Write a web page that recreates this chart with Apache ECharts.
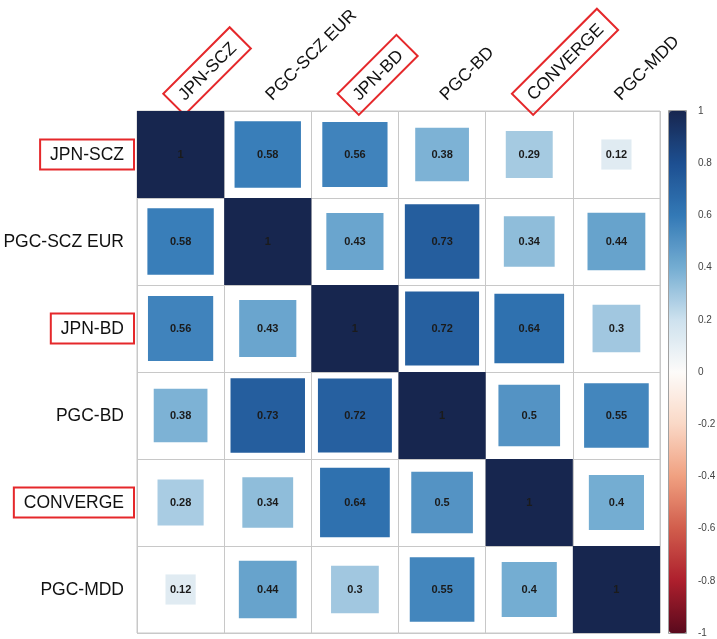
<!DOCTYPE html>
<html>
<head>
<meta charset="utf-8">
<script src="https://cdn.jsdelivr.net/npm/echarts@6/dist/echarts.min.js"></script>
<style>
  html, body { margin: 0; padding: 0; background: #fff; }
  #chart { width: 717px; height: 639px; }
</style>
</head>
<body>
<div id="chart"></div>
<script>
const labels = ['JPN-SCZ', 'PGC-SCZ EUR', 'JPN-BD', 'PGC-BD', 'CONVERGE', 'PGC-MDD']
const boxed = ['JPN-SCZ', 'JPN-BD', 'CONVERGE']

// one row per trait, same order as labels
const rowJpnScz = [1, 0.58, 0.56, 0.38, 0.29, 0.12]
const rowPgcSczEur = [0.58, 1, 0.43, 0.73, 0.34, 0.44]
const rowJpnBd = [0.56, 0.43, 1, 0.72, 0.64, 0.3]
const rowPgcBd = [0.38, 0.73, 0.72, 1, 0.5, 0.55]
const rowConverge = [0.28, 0.34, 0.64, 0.5, 1, 0.4]
const rowPgcMdd = [0.12, 0.44, 0.3, 0.55, 0.4, 1]

const rows = [rowJpnScz, rowPgcSczEur, rowJpnBd, rowPgcBd, rowConverge, rowPgcMdd]

const cells = []
rows.forEach((row, i) => {
  row.forEach((v, j) => cells.push([j, i, v]))
})

const font = '"Liberation Sans", Arial, sans-serif'
const red = '#e5282b'

const labelRich = {
  box: {
    fontFamily: font, fontSize: 17.5, lineHeight: 19, color: '#111',
    padding: [7, 10, 5, 10], borderColor: red, borderWidth: 2,
  },
  plain: {
    fontFamily: font, fontSize: 17.5, lineHeight: 19, color: '#111',
    padding: [7, 10, 5, 10],
  },
}
const fmtLabel = v => boxed.includes(v) ? `{box|${v}}` : `{plain|${v}}`

const chart = echarts.init(document.getElementById('chart'))

const option = {
  backgroundColor: '#fff',
  animation: false,
  grid: [
    {
      left: 137, top: 111, width: 523, height: 522,
      show: true, borderColor: '#c8c8c8', borderWidth: 1,
      outerBoundsMode: 'none',
    },
    {
      left: 669, top: 111, width: 18, height: 522,
      show: false, outerBoundsMode: 'none',
    },
  ],
  xAxis: [
    {
      type: 'category',
      gridIndex: 0,
      position: 'top',
      data: labels,
      axisLine: { show: false },
      axisTick: { show: false },
      splitLine: { show: true, interval: 0, lineStyle: { color: '#c8c8c8', width: 1 } },
      axisLabel: {
        interval: 0,
        rotate: -45,
        align: 'left',
        verticalAlign: 'bottom',
        margin: 0,
        formatter: fmtLabel,
        rich: labelRich,
      },
    },
    { type: 'value', gridIndex: 1, show: false, min: 0, max: 1 },
  ],
  yAxis: [
    {
      type: 'category',
      gridIndex: 0,
      inverse: true,
      data: labels,
      axisLine: { show: false },
      axisTick: { show: false },
      splitLine: { show: true, interval: 0, lineStyle: { color: '#c8c8c8', width: 1 } },
      axisLabel: {
        interval: 0,
        margin: 3,
        formatter: fmtLabel,
        rich: labelRich,
      },
    },
    {
      type: 'value',
      gridIndex: 1,
      position: 'right',
      min: -1,
      max: 1,
      interval: 0.2,
      axisLine: { show: false },
      splitLine: { show: false },
      axisTick: { show: true, length: 3, lineStyle: { color: '#777' } },
      axisLabel: { margin: 11, fontSize: 10, color: '#444', fontFamily: font },
    },
  ],
  visualMap: {
    type: 'continuous',
    seriesIndex: 0,
    dimension: 2,
    min: -1,
    max: 1,
    calculable: false,
    hoverLink: false,
    left: 669,
    top: 111,
    padding: 0,
    itemWidth: 18,
    itemHeight: 522,
    text: null,
    inRange: {
      color: ['#5a0a1d', '#ad1f2d', '#d15d4c', '#f0a080', '#fad8c6', '#fdfbf9',
        '#cde1ee', '#74add2', '#3379b6', '#1d4f91', '#17264f'],
    },
  },
  graphic: [
    {
      type: 'rect',
      z: 100,
      silent: true,
      shape: { x: 668.5, y: 110.5, width: 18, height: 523 },
      style: { fill: null, stroke: '#a0a0a0', lineWidth: 1 },
    },
  ],
  series: [
    {
      type: 'custom',
      xAxisIndex: 0,
      yAxisIndex: 0,
      data: cells,
      renderItem: (params, api) => {
        const v = api.value(2)
        const c = api.coord([api.value(0), api.value(1)])
        const cell = api.size([1, 1])
        const k = Math.sqrt(Math.abs(v))
        const w = cell[0] * k
        const h = cell[1] * k
        return {
          type: 'group',
          children: [
            {
              type: 'rect',
              shape: { x: c[0] - w / 2, y: c[1] - h / 2, width: w, height: h },
              style: { fill: api.visual('color') },
            },
            {
              type: 'text',
              style: {
                x: c[0], y: c[1], text: String(v),
                align: 'center', verticalAlign: 'middle',
                font: `bold 11px ${font}`, fill: '#1b1b1b',
              },
            },
          ],
        }
      },
    },
  ],
}

chart.setOption(option)
</script>
</body>
</html>
